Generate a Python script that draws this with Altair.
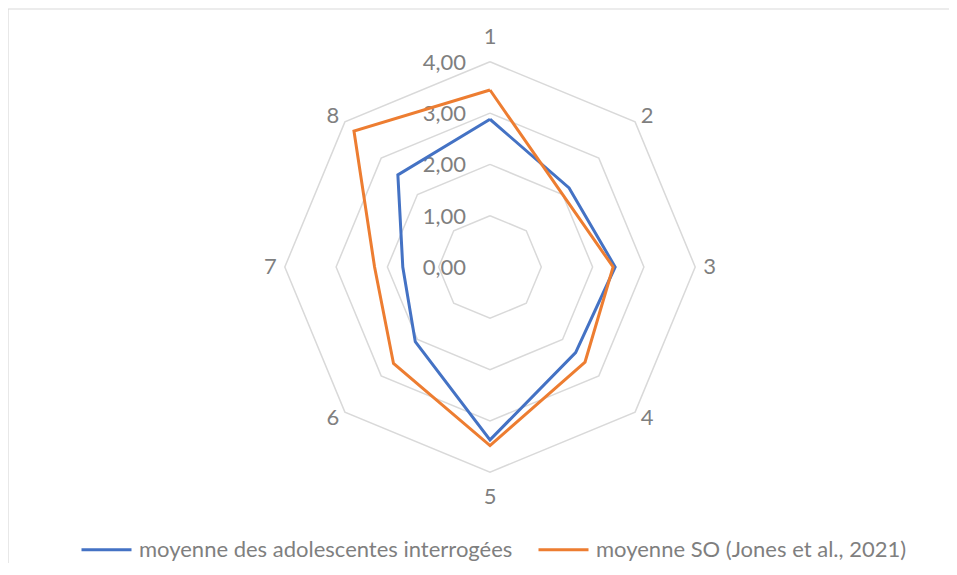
import altair as alt
import pandas as pd

# ---------------- data ----------------
axis_labels = ["1", "2", "3", "4", "5", "6", "7", "8"]
series_names = ["moyenne des adolescentes interrogées", "moyenne SO (Jones et al., 2021)"]
blue_vals = [2.88, 2.18, 2.44, 2.36, 3.37, 2.06, 1.70, 2.54]
orange_vals = [3.45, 2.00, 2.40, 2.62, 3.48, 2.66, 2.25, 3.75]
ring_levels = [0, 1, 2, 3, 4]
ring_labels = ["0,00", "1,00", "2,00", "3,00", "4,00"]
colors = ["#4472C4", "#ED7D31"]

# ---------------- layout ----------------
W, H = 941, 555
CX, CY = 482, 259          # centre of the radar, chart pixels
UNIT = 51.3                # pixels per value unit
x_dom = [-CX / UNIT, (W - CX) / UNIT]
y_dom = [-(H - CY) / UNIT, CY / UNIT]
FONT = "Lato"
FS = 22
TXT = "#7f7f7f"
GRID = "#d9d9d9"

n = len(axis_labels)
rows = []
for name, vals in zip(series_names, [blue_vals, orange_vals]):
    for i in range(n + 1):
        k = i % n
        rows.append({"series": name, "k": k, "order": i, "value": vals[k]})
series_df = pd.DataFrame(rows)

grid_df = pd.DataFrame(
    [{"level": lv, "k": i % n, "order": i} for lv in ring_levels[1:] for i in range(n + 1)]
)
ring_df = pd.DataFrame({"level": ring_levels, "label": ring_labels})
cat_df = pd.DataFrame({"k": list(range(n)), "label": axis_labels})

xs = alt.Scale(domain=x_dom, nice=False, zero=False)
ys = alt.Scale(domain=y_dom, nice=False, zero=False)
X = lambda f: alt.X(f, type="quantitative", scale=xs, axis=None)
Y = lambda f: alt.Y(f, type="quantitative", scale=ys, axis=None)

grid = (
    alt.Chart(grid_df)
    .transform_calculate(a=f"datum.k * 2 * PI / {n}")
    .transform_calculate(gx="datum.level * sin(datum.a)", gy="datum.level * cos(datum.a)")
    .mark_line(color=GRID, strokeWidth=1.5)
    .encode(x=X("gx"), y=Y("gy"), detail="level:N", order="order:Q")
)

color = alt.Color(
    "series:N",
    scale=alt.Scale(domain=series_names, range=colors),
    legend=alt.Legend(
        orient="none", legendX=72, legendY=515, direction="horizontal", title=None,
        symbolType="stroke", symbolSize=2500, symbolStrokeWidth=3,
        labelFont=FONT, labelFontSize=FS, labelColor=TXT, labelOffset=6,
        columnPadding=19, labelLimit=0, padding=0,
    ),
)

def series_layer(name):
    return (
        alt.Chart(series_df)
        .transform_filter(alt.datum.series == name)
        .transform_calculate(a=f"datum.k * 2 * PI / {n}")
        .transform_calculate(px="datum.value * sin(datum.a)", py="datum.value * cos(datum.a)")
        .mark_line(strokeWidth=3)
        .encode(x=X("px"), y=Y("py"), color=color, order="order:Q")
    )

ring_text = (
    alt.Chart(ring_df)
    .transform_calculate(zx="0")
    .mark_text(align="right", baseline="middle", dx=-24, dy=1, font=FONT, fontSize=FS, color=TXT)
    .encode(x=X("zx"), y=Y("level"), text="label:N")
)

cat_text = (
    alt.Chart(cat_df)
    .transform_calculate(a=f"datum.k * 2 * PI / {n}")
    .transform_calculate(
        lx="4 * sin(datum.a) + (sin(datum.a) >= 0 ? 1 : -1) * 0.28 * sqrt(abs(sin(datum.a)))",
        ly="4 * cos(datum.a) + (cos(datum.a) >= 0 ? 1 : -1) * 0.48 * pow(abs(cos(datum.a)), 4)",
    )
    .mark_text(align="center", baseline="middle", font=FONT, fontSize=FS, color=TXT)
    .encode(x=X("lx"), y=Y("ly"), text="label:N")
)

border_src = pd.DataFrame({"d": [0]})
border_top = alt.Chart(border_src).mark_rule(color=GRID, strokeWidth=1.2).encode(
    x=alt.value(0), x2=alt.value(W), y=alt.value(1)
)
border_left = alt.Chart(border_src).mark_rule(color=GRID, strokeWidth=1.2).encode(
    x=alt.value(0), y=alt.value(1), y2=alt.value(H)
)

chart = (
    alt.layer(border_top, border_left, grid, ring_text, series_layer(series_names[0]),
              series_layer(series_names[1]), cat_text)
    .properties(width=W, height=H, padding=0, autosize=alt.AutoSizeParams(type="none"))
    .configure_view(stroke=None)
)

chart.save("out.html", embed_options={"renderer": "svg", "actions": False})
